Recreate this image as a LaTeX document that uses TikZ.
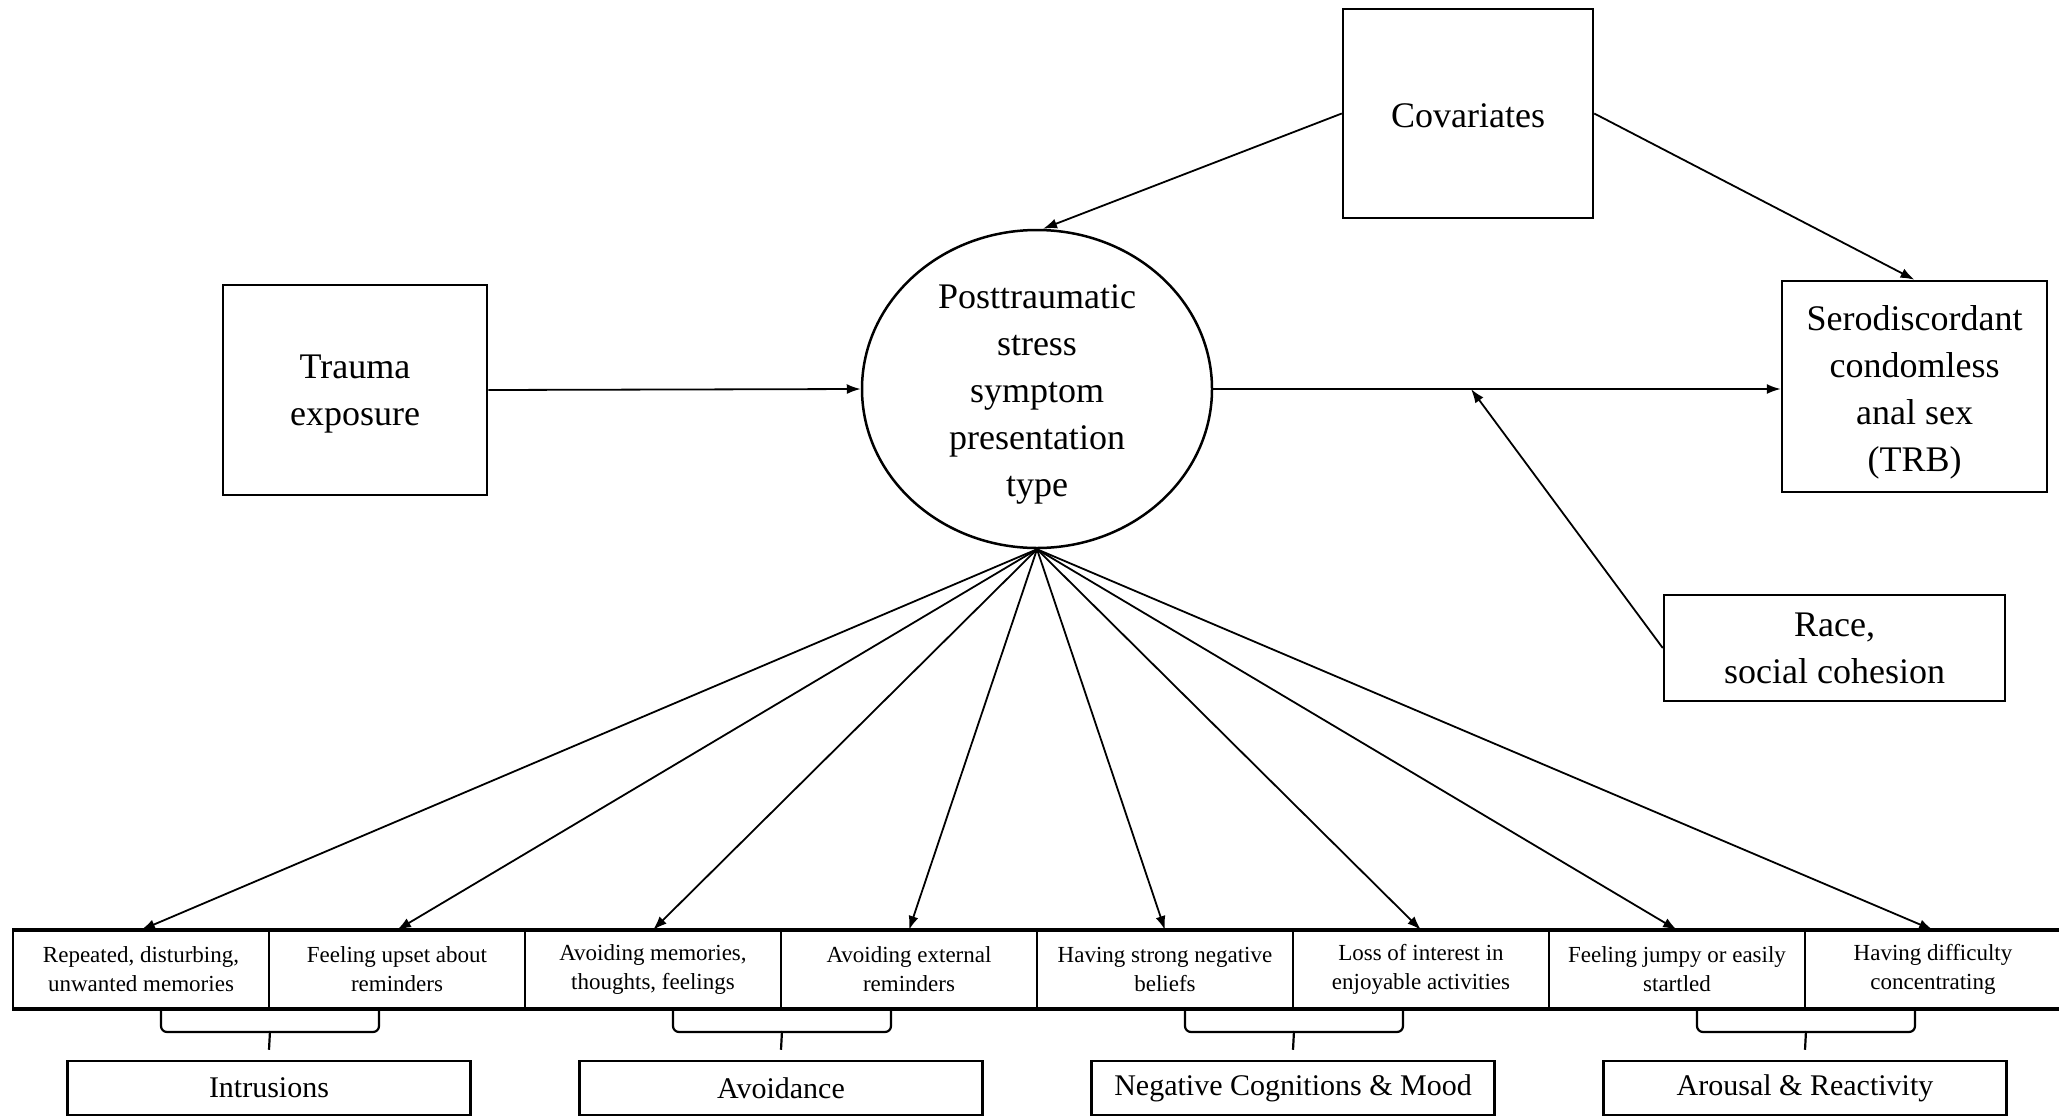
\documentclass[tikz,border=0pt]{standalone}
\usepackage{fontspec}
\setmainfont{Liberation Serif}
\usetikzlibrary{arrows.meta,shapes.geometric,calc}
\newcommand\mytopstrut{\rule{0pt}{34pt}}
\tikzset{
  bigbox/.style={draw, line width=2.5pt, inner sep=0pt, align=center, font=\fontsize{36}{47}\selectfont},
  symbox/.style={draw, line width=2pt, minimum width=256pt, minimum height=77pt, inner sep=0pt, align=center, font=\fontsize{23}{29}\selectfont},
  grpbox/.style={draw, line width=2.5pt, minimum width=403pt, minimum height=54pt, inner sep=0pt, align=center, font=\fontsize{30}{36}\selectfont},
  conn/.style={line width=1.8pt, -{Latex[length=14pt,width=10pt]}},
  bracel/.style={line width=2.2pt, rounded corners=6pt}
}
\begin{document}
\begin{tikzpicture}[x=1pt,y=-1pt]
\useasboundingbox (0,0) rectangle (2059,1117);
% main nodes
\node[bigbox, minimum width=250pt, minimum height=209pt] (cov) at (1468,113.5) {\rule{0pt}{29pt}Covariates};
\node[bigbox, minimum width=264pt, minimum height=210pt] (trauma) at (355,390) {\rule{0pt}{31pt}Trauma\\exposure};
\node[bigbox, ellipse, minimum width=350pt, minimum height=318pt, inner ysep=-8pt] (ptss) at (1037,389) {\mytopstrut Posttraumatic\\stress\\symptom\\presentation\\type};
\node[bigbox, minimum width=265pt, minimum height=211pt] (sero) at (1914.5,386.5) {\rule{0pt}{36pt}Serodiscordant\\condomless\\anal sex\\(TRB)};
\node[bigbox, minimum width=341pt, minimum height=106pt] (race) at (1834.5,648) {Race,\\social cohesion};
% symptom row
\node[symbox] (s1) at (141,969.5) {Repeated, disturbing,\\unwanted memories};
\node[symbox] (s2) at (397,969.5) {Feeling upset about\\reminders};
\node[symbox] (s3) at (653,969.5) {Avoiding memories,\\thoughts, feelings};
\node[symbox] (s4) at (909,969.5) {Avoiding external\\reminders};
\node[symbox] (s5) at (1165,969.5) {Having strong negative\\beliefs};
\node[symbox] (s6) at (1421,969.5) {Loss of interest in\\enjoyable activities};
\node[symbox] (s7) at (1677,969.5) {Feeling jumpy or easily\\startled};
\node[symbox] (s8) at (1933,969.5) {Having difficulty\\concentrating};
\draw[line width=4pt] (s1.north west) -- (s8.north east);
\draw[line width=4pt] (s1.south west) -- (s8.south east);
% group boxes
\node[grpbox] (g1) at (269,1088) {Intrusions};
\node[grpbox] (g2) at (781,1088) {Avoidance};
\node[grpbox] (g3) at (1293,1088) {Negative Cognitions \& Mood};
\node[grpbox] (g4) at (1805,1088) {Arousal \& Reactivity};
% braces
\foreach \a/\g in {s1/g1, s3/g2, s5/g3, s7/g4}{
  \draw[bracel] ($(\a.south east)+(-109,0)$) |- ($(\a.south east)+(0,23)$) -| ($(\a.south east)+(109,0)$);
  \draw[line width=2.2pt] ($(\a.south east)+(0,22)$) -- ($(\g.north)+(0,-10)$);
}
% connectors
\coordinate (modpt) at (1471,389);
\draw[conn] (cov.west) -- ($(ptss.north)+(6,0)$);
\draw[conn] (cov.east) -- (sero.north);
\draw[conn] (trauma.east) -- (ptss.west);
\draw[conn] (ptss.east) -- (ptss.east -| sero.west);
\draw[conn] (race.west) -- (modpt);
\foreach \k in {1,...,8}{
  \draw[conn] (ptss.south) -- (s\k.north);
}
\end{tikzpicture}
\end{document}
